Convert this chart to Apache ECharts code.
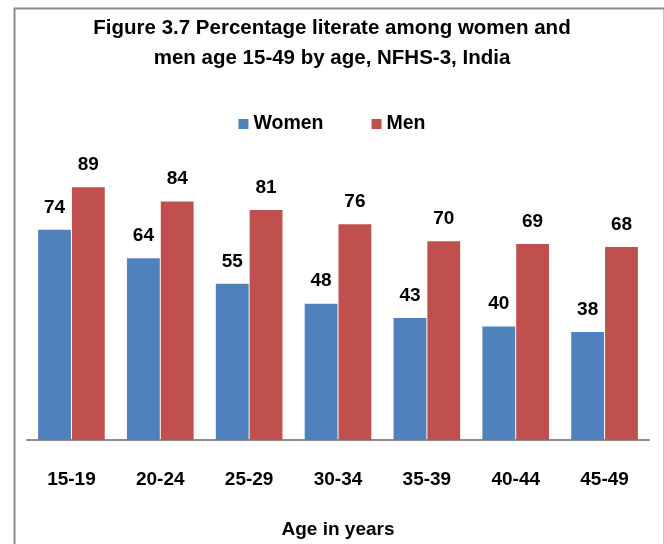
<!DOCTYPE html>
<html>
<head>
    <meta charset="UTF-8">
    <title>Figure 3.7</title>
    <script src="https://cdn.jsdelivr.net/npm/echarts@6/dist/echarts.min.js"></script>
    <style>
        body { margin: 0; background: #fff; }
    </style>
</head>
<body>
    <div id="main" style="width: 664px;height:544px;"></div>
    <script type="text/javascript">
        var myChart = echarts.init(document.getElementById('main'));

        // data
        var ageGroups = ['15-19', '20-24', '25-29', '30-34', '35-39', '40-44', '45-49'];
        var women = [74, 64, 55, 48, 43, 40, 38];
        var men = [89, 84, 81, 76, 70, 69, 68];

        var font = 'Liberation Sans';
        var labelStyle = {
            show: true,
            position: 'top',
            distance: 13,
            color: '#000',
            fontWeight: 'bold',
            fontSize: 19,
            fontFamily: font
        };

        var option = {
            backgroundColor: '#fff',
            animation: false,
            graphic: [{
                type: 'rect',
                left: 12,
                top: 6,
                shape: { width: 650, height: 560 },
                style: { fill: 'none', stroke: '#8c8c8c', lineWidth: 2 },
                silent: true
            }],
            title: {
                text: 'Figure 3.7 Percentage literate among women and\nmen age 15-49 by age, NFHS-3, India',
                left: 'center',
                top: 8,
                textStyle: {
                    fontSize: 20.5,
                    fontWeight: 'bold',
                    fontFamily: font,
                    color: '#000',
                    lineHeight: 30
                }
            },
            legend: {
                top: 109,
                left: 'center',
                itemGap: 48,
                itemWidth: 10,
                itemHeight: 10,
                icon: 'rect',
                textStyle: {
                    fontSize: 19.5,
                    fontWeight: 'bold',
                    fontFamily: font,
                    color: '#000'
                },
                data: ['Women', 'Men']
            },
            grid: {
                left: 27,
                right: 15,
                top: 156,
                bottom: 102
            },
            xAxis: {
                type: 'category',
                data: ageGroups,
                name: 'Age in years',
                nameLocation: 'middle',
                nameGap: 80,
                nameTextStyle: {
                    fontSize: 19,
                    fontWeight: 'bold',
                    fontFamily: font,
                    color: '#000'
                },
                axisLine: { lineStyle: { color: '#8c8c8c', width: 2 } },
                axisTick: { show: false },
                axisLabel: {
                    margin: 30,
                    fontSize: 19,
                    fontWeight: 'bold',
                    fontFamily: font,
                    color: '#000'
                }
            },
            yAxis: {
                type: 'value',
                min: 0,
                max: 100,
                show: false,
                splitLine: { show: false }
            },
            series: [
                {
                    name: 'Women',
                    type: 'bar',
                    data: women,
                    barGap: '3%',
                    barCategoryGap: '25%',
                    itemStyle: { color: '#4f81bd' },
                    label: labelStyle
                },
                {
                    name: 'Men',
                    type: 'bar',
                    data: men,
                    itemStyle: { color: '#c0504d' },
                    label: labelStyle
                }
            ]
        };
        myChart.setOption(option);
    </script>
</body>
</html>
